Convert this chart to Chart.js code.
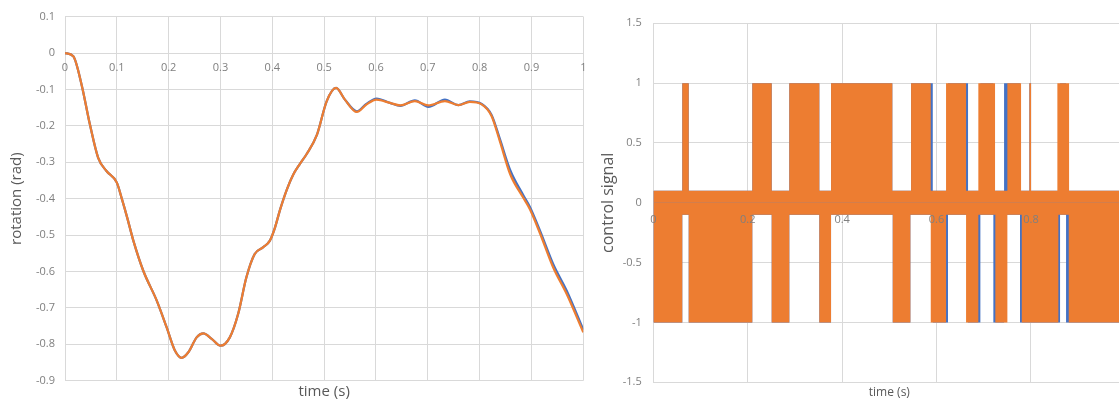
<!DOCTYPE html>
<html>
<head>
<meta charset="utf-8">
<script src="https://cdn.jsdelivr.net/npm/chart.js@4.4.1/dist/chart.umd.min.js"></script>
<style>
  html, body { margin: 0; padding: 0; background: #fff; overflow: hidden; }
  body { width: 1119px; height: 403px; position: relative; }
  .box { position: absolute; top: 0; }
  #left { left: 0; }
  #right { left: 590px; }
</style>
</head>
<body>
<div class="box" id="left"><canvas id="rotation-chart" width="600" height="403"></canvas></div>
<div class="box" id="right"><canvas id="control-chart" width="552" height="403"></canvas></div>
<script>
(function () {
  'use strict';

  // --- rotation (left chart) ---
  var timeS = [
    0, 0.016, 0.032, 0.048, 0.064, 0.080, 0.100, 0.110,
    0.120, 0.132, 0.151, 0.177, 0.196, 0.212, 0.225, 0.238,
    0.254, 0.267, 0.283, 0.300, 0.318, 0.334, 0.350, 0.366,
    0.382, 0.395, 0.405, 0.415, 0.428, 0.440, 0.453, 0.466,
    0.486, 0.505, 0.523, 0.540, 0.563, 0.582, 0.601, 0.627,
    0.647, 0.675, 0.701, 0.733, 0.759, 0.781, 0.804, 0.823,
    0.839, 0.859, 0.884, 0.897, 0.917, 0.942, 0.968, 1.000
  ];
  var rotationBlue = [
    0, -0.009, -0.087, -0.196, -0.288, -0.324, -0.356, -0.402,
    -0.452, -0.516, -0.598, -0.680, -0.753, -0.817, -0.837, -0.822,
    -0.781, -0.770, -0.785, -0.804, -0.781, -0.717, -0.616, -0.552,
    -0.534, -0.516, -0.480, -0.430, -0.375, -0.335, -0.305, -0.278,
    -0.225, -0.132, -0.096, -0.128, -0.160, -0.139, -0.125, -0.137,
    -0.145, -0.130, -0.148, -0.128, -0.143, -0.133, -0.140, -0.170,
    -0.236, -0.322, -0.390, -0.423, -0.490, -0.580, -0.653, -0.760
  ];
  var rotationOrange = [
    0, -0.009, -0.087, -0.196, -0.288, -0.324, -0.356, -0.402,
    -0.452, -0.516, -0.598, -0.680, -0.753, -0.817, -0.837, -0.822,
    -0.781, -0.770, -0.785, -0.804, -0.781, -0.717, -0.616, -0.552,
    -0.534, -0.516, -0.480, -0.430, -0.375, -0.335, -0.305, -0.278,
    -0.225, -0.132, -0.096, -0.128, -0.162, -0.141, -0.128, -0.137,
    -0.144, -0.132, -0.144, -0.132, -0.143, -0.134, -0.141, -0.173,
    -0.242, -0.333, -0.397, -0.429, -0.497, -0.589, -0.662, -0.767
  ];
  var rotationTicks = [0.1, 0, -0.1, -0.2, -0.3, -0.4, -0.5, -0.6, -0.7, -0.8, -0.9];
  var rotationTimeTicks = [0, 0.1, 0.2, 0.3, 0.4, 0.5, 0.6, 0.7, 0.8, 0.9, 1];

  // --- control signal (right chart): switching intervals [start, end] in s ---
  var signalHigh = 1;
  var signalLow = -1;
  var bandLevel = 0.1;
  var orangeUp = [
    [0.0614, 0.0750], [0.2097, 0.2508], [0.2881, 0.3517], [0.3765, 0.5063],
    [0.5460, 0.5877], [0.6201, 0.6625], [0.6885, 0.7239], [0.7500, 0.7790],
    [0.7966, 0.8002], [0.8559, 0.8807]
  ];
  var orangeDown = [
    [0, 0.0614], [0.0750, 0.2097], [0.2508, 0.2881], [0.3517, 0.3765],
    [0.5072, 0.5445], [0.5877, 0.6201], [0.6625, 0.6885], [0.7245, 0.7500],
    [0.7805, 0.8580], [0.8800, 1]
  ];
  var blueUp = [
    [0.0614, 0.0750], [0.2097, 0.2508], [0.2881, 0.3517], [0.3765, 0.5063],
    [0.5460, 0.5920], [0.6243, 0.6667], [0.6928, 0.7203], [0.7430, 0.7767],
    [0.7966, 0.8002], [0.8616, 0.8743]
  ];
  var blueDown = [
    [0, 0.0614], [0.0750, 0.2097], [0.2508, 0.2881], [0.3517, 0.3765],
    [0.5072, 0.5445], [0.5920, 0.6243], [0.6667, 0.6928], [0.7203, 0.7430],
    [0.7767, 0.8616], [0.8743, 1]
  ];
  var controlTicks = [1.5, 1, 0.5, 0, -0.5, -1, -1.5];
  var controlTimeTicks = [0, 0.2, 0.4, 0.6, 0.8, 1];

  var BLUE = '#4472c4';
  var ORANGE = '#ed7d31';
  var GRID = '#d9d9d9';
  var TICK = '#7f7f7f';
  var TITLE = '#595959';
  var FONT = "'Open Sans', sans-serif";

  function fixTicks(list) {
    return function (scale) {
      scale.ticks = list.map(function (v) { return { value: v }; });
    };
  }
  function fmt(v) {
    return String(Math.round(v * 10) / 10);
  }
  function points(xs, ys) {
    return xs.map(function (x, i) { return { x: x, y: ys[i] }; });
  }
  function steps(intervals, level, base) {
    var pts = [{ x: 0, y: base }];
    intervals.forEach(function (iv) {
      pts.push({ x: iv[0], y: base }, { x: iv[0], y: level },
               { x: iv[1], y: level }, { x: iv[1], y: base });
    });
    pts.push({ x: 1, y: base });
    return pts;
  }

  new Chart(document.getElementById('rotation-chart').getContext('2d'), {
    type: 'line',
    data: {
      datasets: [
        {
          data: points(timeS, rotationOrange),
          borderColor: ORANGE,
          borderWidth: 2.25,
          pointRadius: 0,
          cubicInterpolationMode: 'monotone',
          order: 0
        },
        {
          data: points(timeS, rotationBlue),
          borderColor: BLUE,
          borderWidth: 2.25,
          pointRadius: 0,
          cubicInterpolationMode: 'monotone',
          order: 1
        }
      ]
    },
    options: {
      responsive: false,
      animation: false,
      layout: { padding: { top: 15.7, right: 16.7, bottom: 0, left: 0 } },
      plugins: { legend: { display: false }, tooltip: { enabled: false } },
      scales: {
        x: {
          type: 'linear',
          min: 0,
          max: 1,
          position: { y: 0 },
          afterBuildTicks: fixTicks(rotationTimeTicks),
          grid: { color: GRID, drawTicks: false },
          border: { color: GRID },
          ticks: {
            padding: 8,
            color: TICK,
            font: { family: FONT, size: 11 },
            maxRotation: 0,
            autoSkip: false,
            callback: fmt
          }
        },
        xb: {
          type: 'linear',
          min: 0,
          max: 1,
          position: 'bottom',
          grid: { display: false },
          border: { display: false },
          ticks: { display: false },
          title: {
            display: true,
            text: 'time (s)',
            color: TITLE,
            font: { family: FONT, size: 15 },
            padding: { top: 0, bottom: 2 }
          },
          afterFit: function (s) { s.height = 22.3; }
        },
        y: {
          type: 'linear',
          min: -0.9,
          max: 0.1,
          afterBuildTicks: fixTicks(rotationTicks),
          grid: { color: GRID, drawTicks: false },
          border: { display: false },
          ticks: {
            padding: 10,
            color: TICK,
            font: { family: FONT, size: 11 },
            callback: fmt
          },
          title: {
            display: true,
            text: 'rotation (rad)',
            color: TITLE,
            font: { family: FONT, size: 15 },
            padding: { top: 8, bottom: 0 }
          },
          afterFit: function (s) { s.width = 65; }
        }
      }
    }
  });

  function block(data, color, order) {
    return {
      data: data,
      borderColor: 'rgba(0,0,0,0)',
      borderWidth: 0,
      backgroundColor: color,
      fill: { value: 0 },
      pointRadius: 0,
      tension: 0,
      order: order
    };
  }

  new Chart(document.getElementById('control-chart').getContext('2d'), {
    type: 'line',
    data: {
      datasets: [
        block(steps(orangeUp, signalHigh, bandLevel), ORANGE, 0),
        block(steps(orangeDown, signalLow, -bandLevel), ORANGE, 0),
        block(steps(blueUp, signalHigh, bandLevel), BLUE, 1),
        block(steps(blueDown, signalLow, -bandLevel), BLUE, 1)
      ]
    },
    options: {
      responsive: false,
      animation: false,
      layout: { padding: { top: 23.3, right: 16.6, bottom: 0, left: 0 } },
      plugins: { legend: { display: false }, tooltip: { enabled: false } },
      scales: {
        x: {
          type: 'linear',
          min: 0,
          max: 1,
          position: { y: 0 },
          afterBuildTicks: fixTicks(controlTimeTicks),
          grid: { color: GRID, drawTicks: false },
          border: { display: false },
          ticks: {
            z: 1,
            padding: 10,
            color: TICK,
            font: { family: FONT, size: 11 },
            maxRotation: 0,
            autoSkip: false,
            callback: fmt
          }
        },
        xb: {
          type: 'linear',
          min: 0,
          max: 1,
          position: 'bottom',
          grid: { display: false },
          border: { display: false },
          ticks: { display: false },
          title: {
            display: true,
            text: 'time (s)',
            color: TITLE,
            font: { family: FONT, size: 12 },
            padding: { top: 0, bottom: 3 }
          },
          afterFit: function (s) { s.height = 20.7; }
        },
        y: {
          type: 'linear',
          min: -1.5,
          max: 1.5,
          afterBuildTicks: fixTicks(controlTicks),
          grid: { color: GRID, drawTicks: false },
          border: { display: false },
          ticks: {
            padding: 11.5,
            color: TICK,
            font: { family: FONT, size: 11 },
            callback: fmt
          },
          title: {
            display: true,
            text: 'control signal',
            color: TITLE,
            font: { family: FONT, size: 16 },
            padding: { top: 9, bottom: 0 }
          },
          afterFit: function (s) { s.width = 63.3; }
        }
      }
    }
  });
})();
</script>
</body>
</html>
